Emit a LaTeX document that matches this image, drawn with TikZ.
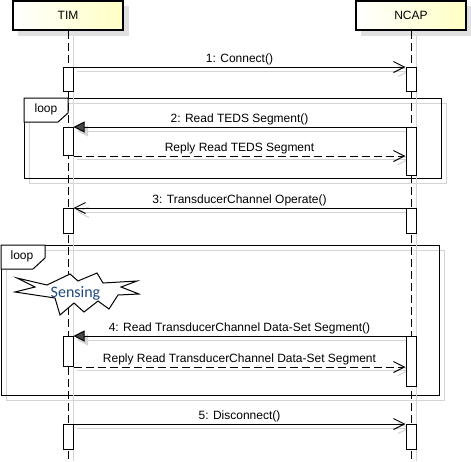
\documentclass[tikz,border=0pt]{standalone}
\usepackage{fontspec}
\setmainfont{Liberation Sans}
\newfontfamily\starfont{Carlito}
\usetikzlibrary{arrows.meta}
\definecolor{shd}{RGB}{212,212,212}
\definecolor{shdfill}{RGB}{224,224,224}
\definecolor{boxyel}{RGB}{255,255,196}
\definecolor{sensblue}{RGB}{31,73,125}
\definecolor{headgray}{RGB}{72,72,72}
\begin{document}
\begin{tikzpicture}[x=1pt,y=-1pt,
  font=\fontsize{12}{14}\selectfont,
  actor/.style={draw, line width=2pt, left color=white, right color=boxyel,
    minimum width=110pt, minimum height=29pt, inner sep=0pt},
  life/.style={line width=1pt, dash pattern=on 8pt off 4pt},
  lifeshd/.style={draw=shd, line width=1pt},
  act/.style={draw, fill=white, line width=1pt, minimum width=10pt, inner sep=0pt, anchor=north},
  frm/.style={draw, line width=1pt},
  frmshd/.style={draw=shd, line width=1pt},
  openhead/.style={-{Straight Barb[length=11pt,width=11pt,line width=1pt]}},
  msg/.style={line width=1pt, openhead},
  call/.style={line width=1pt, -{Triangle[length=11pt,width=11pt,fill=headgray]}},
  reply/.style={line width=1pt, dash pattern=on 8pt off 4pt, openhead},
  msgshd/.style={draw=shd, line width=1pt, -{Straight Barb[length=11pt,width=11pt,line width=1pt]}},
  callshd/.style={draw=shd, line width=1pt, -{Triangle[length=11pt,width=11pt,fill=shd]}},
  lbl/.style={midway, anchor=base, yshift=4.5pt, inner sep=0pt},
  looplbl/.style={inner sep=0pt}
]
\useasboundingbox (0,0) rectangle (471,461);

% ---- actors
\fill[shdfill] (18,6) rectangle (129,36);
\fill[shdfill] (361,6) rectangle (472,36);
\node[actor] (tim) at (68,15.5) {TIM};
\node[actor] (ncap) at (411,15.5) {NCAP};
\coordinate (timend) at (68,461);
\coordinate (ncapend) at (411,461);

% ---- frame shadows and frames
\draw[frmshd] (29,103) rectangle (446,183);
\draw[frmshd] (6,250) rectangle (444,400);
\draw[frm] (24,98) rectangle (441,178);
\draw[frm] (1,245) rectangle (439,395);

% ---- lifelines
\draw[lifeshd] (73,36) -- (73,461);
\draw[lifeshd] (416,36) -- (416,461);
\draw[life] (tim.south) -- (timend);
\draw[life] (ncap.south) -- (ncapend);

% ---- frame tabs
\draw[frm, fill=white] (24,98) -- (24,122) -- (58,122) -- (68,113) -- (68,98) -- cycle;
\node[looplbl] (loop1) at (46,109) {loop};
\draw[frm, fill=white] (1,245) -- (1,269) -- (33,269) -- (45,258) -- (45,245) -- cycle;
\node[looplbl] (loop2) at (22,256) {loop};

% ---- activation boxes (coordinates for shadows first)
\coordinate (t1) at (73,67);   \coordinate (n1) at (406,67);
\coordinate (t2) at (73,127);  \coordinate (n2) at (406,127);
\coordinate (t2b) at (73,155);
\coordinate (t3) at (73,208);  \coordinate (n3) at (406,208);
\coordinate (t4) at (73,336);  \coordinate (n4) at (406,336);
\coordinate (t4b) at (73,366);
\coordinate (t5) at (73,424);  \coordinate (n5) at (406,424);

% message shadows
\draw[msgshd] ([shift={(4,4)}]t1) -- ([shift={(4,4)}]n1);
\draw[callshd] ([shift={(4,4)}]n2) -- ([shift={(4,4)}]t2);
\draw[msgshd] ([shift={(4,4)}]t2b) -- ([shift={(4,4)}]t2b -| n2);
\draw[msgshd] ([shift={(4,4)}]n3) -- ([shift={(4,4)}]t3);
\draw[callshd] ([shift={(4,4)}]n4) -- ([shift={(4,4)}]t4);
\draw[msgshd] ([shift={(4,4)}]t4b) -- ([shift={(4,4)}]t4b -| n4);
\draw[msgshd] ([shift={(4,4)}]t5) -- ([shift={(4,4)}]n5);

\node[act, minimum height=24pt] (tim1) at (68,67) {};
\node[act, minimum height=24pt] (ncap1) at (411,67) {};
\node[act, minimum height=28pt] (tim2) at (68,127) {};
\node[act, minimum height=48pt] (ncap2) at (411,127) {};
\node[act, minimum height=25pt] (tim3) at (68,208) {};
\node[act, minimum height=25pt] (ncap3) at (411,208) {};
\node[act, minimum height=30pt] (tim4) at (68,336) {};
\node[act, minimum height=50pt] (ncap4) at (411,336) {};
\node[act, minimum height=25pt] (tim5) at (68,424) {};
\node[act, minimum height=25pt] (ncap5) at (411,424) {};

% ---- messages
\draw[msg] (tim1.north east) -- node[lbl] (m1) {1: Connect()} (ncap1.north west);
\draw[call] (ncap2.north west) -- node[lbl] (m2) {2: Read TEDS Segment()} (tim2.north east);
\draw[reply] (tim2.south east) -- node[lbl] (r2) {Reply Read TEDS Segment} (tim2.south east -| ncap2.west);
\draw[msg] (ncap3.north west) -- node[lbl] (m3) {3: TransducerChannel Operate()} (tim3.north east);
\draw[call] (ncap4.north west) -- node[lbl] (m4) {4: Read TransducerChannel Data-Set Segment()} (tim4.north east);
\draw[reply] (tim4.south east) -- node[lbl] (r4) {Reply Read TransducerChannel Data-Set Segment} (tim4.south east -| ncap4.west);
\draw[msg] (tim5.north east) -- node[lbl] (m5) {5: Disconnect()} (ncap5.north west);

% ---- Sensing explosion
\draw[line width=1pt, fill=white, line join=miter]
  (17,278) -- (47,285) -- (70,274) -- (78,281) -- (97,273) -- (103,283) --
  (137,281) -- (121,287) -- (139,294) -- (118,295) -- (109,309) -- (98,301) --
  (84,312) -- (74,303) -- (60,315) -- (55,298) -- (15,292) -- (35,287) -- cycle;
\node[inner sep=0pt, anchor=base, text=sensblue, font=\starfont\fontsize{16}{18}\selectfont] (sensing) at (75.5,297.5) {Sensing};
\end{tikzpicture}
\end{document}
